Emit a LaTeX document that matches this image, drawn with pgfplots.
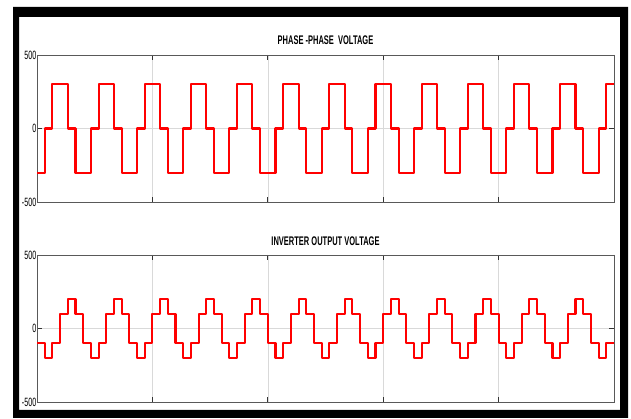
\documentclass[border=0pt]{standalone}
\usepackage{fontspec}
\setmainfont{Liberation Sans}
\usepackage{pgfplots}
\pgfplotsset{compat=1.18}
\begin{document}
\begin{tikzpicture}
\path (0pt,0pt) rectangle (631pt,419pt);
\fill[black,even odd rule] (13pt,1pt) rectangle (628pt,412pt) (19pt,9pt) rectangle (620pt,402pt);
\pgfplotsset{
  myax/.style={
    scale only axis, width=577pt, height=147pt,
    xmin=0, xmax=250, ymin=-500, ymax=500,
    xtick={0,50,...,250}, xticklabels={},
    ytick={-500,0,500}, yticklabels={-500,0,500},
    grid=major, major grid style={gray!30, line width=0.6pt},
    axis line style={gray!70!black, line width=0.8pt},
    tick style={black!80, line width=0.8pt},
    major tick length=5pt,
    yticklabel style={font=\fontsize{12}{12}\selectfont, xscale=0.6, inner sep=1pt},
    title style={font=\bfseries\fontsize{12.5}{12.5}\selectfont, xscale=0.6},
  }
}
\begin{axis}[myax, at={(37pt,217pt)}, anchor=south west,
  title={PHASE -PHASE\ \ VOLTAGE}, title style={yshift=1pt}]
\addplot[red, line width=2.1pt, const plot, line join=round] coordinates {
(0,-300)
(3.33,0)(6.67,300)(13.33,0)(16.67,-300)
(23.33,0)(26.67,300)(33.33,0)(36.67,-300)
(43.33,0)(46.67,300)(53.33,0)(56.67,-300)
(63.33,0)(66.67,300)(73.33,0)(76.67,-300)
(83.33,0)(86.67,300)(93.33,0)(96.67,-300)
(103.33,0)(106.67,300)(113.33,0)(116.67,-300)
(123.33,0)(126.67,300)(133.33,0)(136.67,-300)
(143.33,0)(146.67,300)(153.33,0)(156.67,-300)
(163.33,0)(166.67,300)(173.33,0)(176.67,-300)
(183.33,0)(186.67,300)(193.33,0)(196.67,-300)
(203.33,0)(206.67,300)(213.33,0)(216.67,-300)
(223.33,0)(226.67,300)(233.33,0)(236.67,-300)
(243.33,0)(246.67,300)(250,300)
};
\end{axis}
\begin{axis}[myax, at={(37pt,17pt)}, anchor=south west,
  title={INVERTER OUTPUT VOLTAGE}]
\addplot[red, line width=2.1pt, const plot, line join=round] coordinates {
(0,-100)(3.33,-200)(6.67,-100)(10,100)(13.33,200)(16.67,100)
(20,-100)(23.33,-200)(26.67,-100)(30,100)(33.33,200)(36.67,100)
(40,-100)(43.33,-200)(46.67,-100)(50,100)(53.33,200)(56.67,100)
(60,-100)(63.33,-200)(66.67,-100)(70,100)(73.33,200)(76.67,100)
(80,-100)(83.33,-200)(86.67,-100)(90,100)(93.33,200)(96.67,100)
(100,-100)(103.33,-200)(106.67,-100)(110,100)(113.33,200)(116.67,100)
(120,-100)(123.33,-200)(126.67,-100)(130,100)(133.33,200)(136.67,100)
(140,-100)(143.33,-200)(146.67,-100)(150,100)(153.33,200)(156.67,100)
(160,-100)(163.33,-200)(166.67,-100)(170,100)(173.33,200)(176.67,100)
(180,-100)(183.33,-200)(186.67,-100)(190,100)(193.33,200)(196.67,100)
(200,-100)(203.33,-200)(206.67,-100)(210,100)(213.33,200)(216.67,100)
(220,-100)(223.33,-200)(226.67,-100)(230,100)(233.33,200)(236.67,100)
(240,-100)(243.33,-200)(246.67,-100)(250,-100)
};
\end{axis}
\end{tikzpicture}
\end{document}
